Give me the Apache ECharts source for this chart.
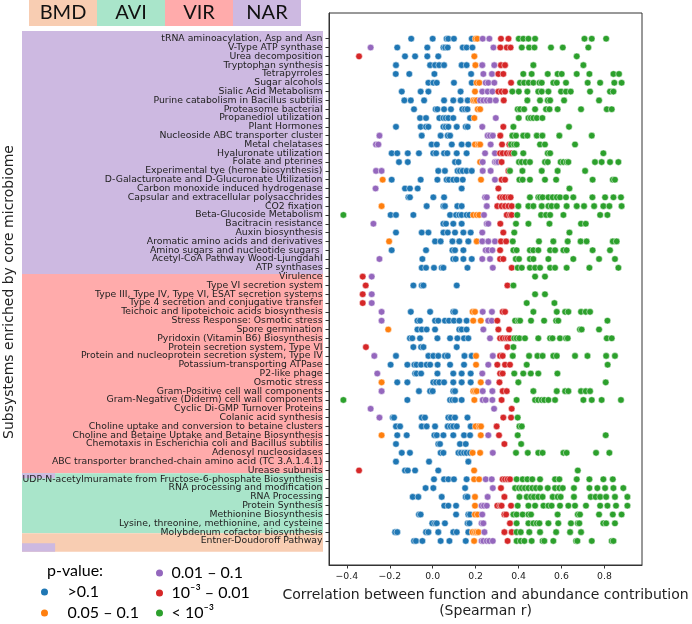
<!DOCTYPE html>
<html>
<head>
<meta charset="utf-8">
<script src="https://cdn.jsdelivr.net/npm/echarts@6.0.0/dist/echarts.min.js"></script>
<style>html,body{margin:0;padding:0;background:#fff;}#c{width:692px;height:624px;}</style>
</head>
<body>
<div id="c"></div>
<script>
const categories = [
"tRNA aminoacylation, Asp and Asn","V-Type ATP synthase","Urea decomposition","Tryptophan synthesis","Tetrapyrroles",
"Sugar alcohols","Sialic Acid Metabolism","Purine catabolism in Bacillus subtilis","Proteasome bacterial","Propanediol utilization",
"Plant Hormones","Nucleoside ABC transporter cluster","Metal chelatases","Hyaluronate utilization","Folate and pterines",
"Experimental tye (heme biosynthesis)","D-Galacturonate and D-Glucuronate Utilization","Carbon monoxide induced hydrogenase",
"Capsular and extracellular polysacchrides","CO2 fixation","Beta-Glucoside Metabolism","Bacitracin resistance","Auxin biosynthesis",
"Aromatic amino acids and derivatives","Amino sugars and nucleotide sugars ","Acetyl-CoA Pathway Wood-Ljungdahl","ATP synthases",
"Virulence","Type VI secretion system","Type III, Type IV, Type VI, ESAT secretion systems","Type 4 secretion and conjugative transfer",
"Teichoic and lipoteichoic acids biosynthesis","Stress Response: Osmotic stress","Spore germination","Pyridoxin (Vitamin B6) Biosynthesis",
"Protein secretion system, Type VI","Protein and nucleoprotein secretion system, Type IV","Potassium-transporting ATPase","P2-like phage",
"Osmotic stress","Gram-Positive cell wall components","Gram-Negative (Diderm) cell wall components","Cyclic Di-GMP Turnover Proteins",
"Colanic acid synthesis","Choline uptake and conversion to betaine clusters","Choline and Betaine Uptake and Betaine Biosynthesis",
"Chemotaxis in Escherichia coli and Bacillus subtilis","Adenosyl nucleosidases","ABC transporter branched-chain amino acid (TC 3.A.1.4.1)",
"Urease subunits","UDP-N-acetylmuramate from Fructose-6-phosphate Biosynthesis","RNA processing and modification","RNA Processing",
"Protein Synthesis","Methionine Biosynthesis","Lysine, threonine, methionine, and cysteine","Molybdenum cofactor biosynthesis",
"Entner-Doudoroff Pathway"
];

// group bands (in row units) behind the category labels
const groupBands = [["NAR",-0.9,26.38],["VIR",26.38,48.76],["AVI",48.76,55.5],["BMD",55.5,57.56]];
const narInsets = [[48.76,49.32],[56.62,57.56]];
const headerGroups = ["BMD","AVI","VIR","NAR"];
const xTicks = [-0.4,-0.2,0,0.2,0.4,0.6,0.8];
const pClasses = [">0.1","0.05 – 0.1","0.01 – 0.1","10⁻³ – 0.01","< 10⁻³"];

const rBlue = [
[-0.10,0.00,0.065,0.073,0.099,0.182],[-0.165,-0.025,0.05,0.058,0.07,0.14,0.158,0.185],[-0.129,-0.082,-0.025,0.026],
[-0.171,-0.012,0.011,0.03,0.053,0.135,0.158],[-0.172,-0.109,0.008,0.179],[-0.02,0.003,0.019,0.099,0.182],
[-0.144,-0.056,-0.02,0.13],[-0.132,-0.102,-0.04,0.053,0.096,0.13,0.163],[-0.087,0.014,0.022,0.053,0.085,0.138,0.151,0.162],
[-0.059,-0.031,0.031,0.05,0.061,0.073,0.096,0.174],[-0.171,-0.056,-0.031,-0.02,0.05,0.061,0.073,0.112,0.154,0.163],
[-0.051,0.037,0.07,0.081],[-0.005,0.019,0.089,0.135,0.166],[-0.191,-0.165,-0.116,-0.064,0.003,0.016,0.053,0.068,0.112,0.158],
[-0.157,-0.116,0.104,0.12],[0.026,0.057,0.116,0.127,0.14,0.158,0.182],[-0.191,-0.056,0.022,0.065,0.076,0.096,0.112,0.14],
[-0.129,-0.106,-0.07,0.135],[-0.113,-0.106,0.003,0.053],[-0.028,0.05,0.057,0.115,0.135],
[-0.196,-0.171,-0.09,0.081,0.109,0.124,0.135,0.158,0.171],[0.05,0.062,0.096,0.135],[-0.171,-0.051,-0.02,0.05,0.07,0.104,0.143,0.177],
[0.011,0.037,0.092,0.124,0.166],[-0.191,-0.031,0.092,0.104,0.143],[-0.048,0.096,0.107,0.143,0.182],
[-0.051,-0.031,0.006,0.042,0.05,0.162],[],[-0.09,-0.051,-0.043,0.112],[],[],
[-0.102,-0.012,0.096,0.104],[-0.071,-0.059,0.011,0.026,0.057,0.076,0.099,0.124,0.158],[-0.071,-0.051,-0.028,0.011,0.124,0.135,0.158],
[-0.106,-0.095,-0.059,0.022,0.081,0.115,0.146,0.166],[-0.09,-0.054,-0.043,0.112],[-0.171,-0.02,0.003,0.026,0.057,0.07,0.148,0.182],
[-0.196,-0.118,-0.085,-0.075,-0.054,-0.028,-0.012,0.023,0.081,0.146],[-0.082,-0.075,-0.054,0.022,0.096,0.135,0.177],
[-0.165,-0.118,0.003,0.016,0.031,0.053,0.096,0.135,0.177],[-0.064,-0.012,0.0,0.096,0.104],[-0.118,0.081,0.092,0.104,0.135],
[],[-0.186,-0.18,-0.051,-0.036,0.073,0.085,0.104,0.162],[-0.171,-0.152,-0.051,-0.028,0.011,0.07,0.084,0.096,0.112,0.177],
[-0.165,-0.121,0.008,0.019,0.05,0.096,0.146,0.174],[-0.171,0.026,0.034,0.127,0.154],[-0.144,-0.106,0.037,0.05,0.12,0.132,0.146,0.158,0.174],
[-0.171,-0.017,0.166],[-0.129,-0.116,-0.082,0.026],[0.006,0.053,0.073,0.099,0.158],[-0.033,0.003,0.151],
[-0.093,-0.067,0.042,0.154,0.162],[0.054,0.073,0.109],[-0.064,-0.056,0.109,0.166,0.174],[-0.002,0.011,0.019,0.057,0.163,0.171],
[-0.175,-0.165,-0.031,-0.02,0.026,0.096,0.112,0.166],[-0.087,-0.078,-0.048,0.037,0.078,0.154]
];
const rOrange = [
[0.2,0.208],[],[0.194],[0.199],[],[0.205,0.217],[0.197],[0.189,0.197,0.205],[0.21,0.221],[0.194],
[],[],[0.197,0.213,0.221],[],[0.221],[],[-0.233,0.225],[],[],[-0.238],
[0.189,0.205,0.217],[],[],[-0.203,0.205],[],[],[],[],[],[],
[],[0.186,0.197],[0.189,0.224],[-0.207],[],[],[0.202],[0.202],[],[-0.238,0.224],
[0.189,0.197,0.205],[0.194],[],[],[0.2,0.217,0.225],[-0.238,0.224],[],[0.186,0.221],[],[0.193],
[0.193,0.216],[],[0.197],[0.197],[0.197,0.21],[],[0.186,0.197,0.205,0.213],[0.193]
];
const rPurple = [
[0.233,0.264],[-0.289,0.283],[],[0.231,0.287],[0.236,0.276],[0.247,0.259,0.287],[0.231,0.256,0.278],[0.221,0.236,0.252,0.267,0.294],[],[0.294],
[0.231],[-0.248,0.256,0.267,0.28],[-0.264,-0.253,0.27],[0.244,0.29],[0.233,0.29,0.297,0.305],[-0.264,-0.238,0.233,0.27],[0.29],[-0.266],[0.244,0.252],[0.252],
[0.239],[-0.276,0.252,0.259],[0.231],[0.231,0.259,0.29],[0.247,0.259,0.278],[-0.248,0.231,0.267],[0.28],[-0.284],[],[-0.284],
[-0.284],[-0.238,0.233,0.276],[-0.238,0.259,0.275],[0.236],[0.267],[],[-0.272,0.28],[0.259],[-0.258,0.231],[0.259],
[-0.238,0.233,0.278],[0.233,0.247,0.278],[-0.289,0.286],[-0.248],[],[0.259],[],[0.28],[],[],
[0.247,0.275],[0.28],[0.256],[0.228,0.239,0.252],[0.231],[0.228,0.236],[0.241],[0.228,0.236,0.252,0.264,0.28]
];
const rRed = [
[0.318,0.353],[0.315,0.345,0.363],[-0.343],[0.318,0.337],[0.306,0.329],[0.365],[0.306,0.321,0.337],[0.331],[],[],
[0.329],[0.315],[0.323,0.357],[0.314,0.326,0.345,0.36,0.368],[0.321],[0.353],[0.321,0.337],[0.306],[0.314,0.326,0.337,0.353,0.363],[0.301,0.321,0.337,0.353,0.368],
[0.345,0.36,0.368],[0.315],[0.329],[0.318,0.342],[0.314],[0.314,0.329],[0.368],[-0.326],[-0.312,0.348],[-0.326],
[-0.326],[0.326,0.337],[0.301],[0.306,0.356],[0.314,0.326,0.34,0.349,0.36],[-0.311,0.348],[0.314,0.326],[0.301,0.337,0.36],[0.314,0.326],[0.311],
[0.326,0.345],[0.321],[0.368],[0.329,0.365],[0.298],[0.309],[0.334],[],[],[-0.343],
[0.326,0.337,0.349,0.36],[0.318],[0.334],[0.301,0.314,0.321,0.365],[0.334,0.342],[0.36],[0.334,0.368],[0.349]
];
const rGreen = [
[0.401,0.422,0.446,0.477,0.707,0.741,0.808],[0.415,0.449,0.474,0.551,0.606,0.725],[0.671],[0.469,0.702],
[0.422,0.461,0.536,0.582,0.601,0.671,0.73,0.842,0.868],[0.407,0.426,0.447,0.469,0.497,0.508,0.562,0.578,0.621,0.722,0.78,0.846,0.88],
[0.371,0.401,0.441,0.492,0.508,0.539,0.598,0.621,0.643,0.733,0.826,0.842],[0.441,0.5,0.536,0.547,0.612,0.775],
[0.396,0.407,0.426,0.477,0.528,0.544,0.582,0.691,0.811,0.834],[0.401,0.446,0.457,0.469,0.485,0.511],[0.376,0.635],
[0.371,0.388,0.422,0.441,0.485,0.511,0.59,0.741],[0.365,0.38,0.391,0.5,0.523,0.663],[0.38,0.422,0.536,0.547,0.795],
[0.402,0.415,0.433,0.453,0.523,0.536,0.596,0.609,0.624,0.632,0.756,0.787,0.826,0.865],[0.36,0.418,0.508,0.582,0.71],
[0.404,0.419,0.453,0.523,0.575,0.745,0.839,0.849],[0.637],
[0.453,0.492,0.5,0.512,0.539,0.559,0.578,0.593,0.621,0.655,0.744,0.803,0.842,0.877],
[0.399,0.446,0.469,0.508,0.539,0.554,0.578,0.624,0.671,0.705,0.752,0.795,0.823,0.88],
[-0.416,0.394,0.505,0.528,0.547,0.609,0.78,0.814],[0.388,0.446,0.544,0.691,0.713],[0.38,0.637],
[0.373,0.495,0.562,0.629,0.689,0.717,0.839,0.857],[0.376,0.391,0.453,0.469,0.492,0.547,0.57,0.609,0.624,0.745,0.826],
[0.387,0.402,0.453,0.469,0.539,0.655,0.775,0.849],[0.396,0.415,0.453,0.477,0.5,0.547,0.57,0.624,0.73,0.865],
[0.477,0.523],[0.376],[0.477,0.523],[0.438,0.567],[0.469,0.578,0.617,0.632,0.691,0.713,0.733],
[0.384,0.399,0.407,0.458,0.519,0.575,0.585,0.814],[0.686,0.694,0.775],
[0.38,0.391,0.404,0.43,0.492,0.547,0.558,0.593,0.621,0.629,0.811,0.834],[0.376],
[0.373,0.449,0.488,0.512,0.562,0.578,0.663,0.721,0.808,0.849],[0.438,0.815],[0.38,0.422,0.457,0.492,0.581],[0.399,0.806],
[0.469,0.578,0.617,0.632,0.691,0.713,0.733],[-0.416,0.391,0.477,0.492,0.508,0.52,0.539,0.57,0.702,0.741,0.787,0.877],
[],[0.396],[0.404,0.415],[0.396,0.806],[0.412],[0.388,0.443,0.492,0.512,0.609,0.624,0.761,0.823],[],[0.676],
[0.391,0.419,0.441,0.464,0.5,0.57,0.59,0.671,0.73,0.795,0.839],
[0.384,0.402,0.415,0.43,0.446,0.464,0.481,0.5,0.536,0.57,0.59,0.606,0.658,0.73,0.767,0.803,0.842,0.888],
[0.404,0.438,0.458,0.472,0.492,0.512,0.559,0.582,0.596,0.658,0.736,0.759,0.78,0.808,0.849,0.907],
[0.396,0.446,0.477,0.516,0.539,0.554,0.593,0.632,0.663,0.714,0.78,0.814,0.854,0.907],
[0.376,0.391,0.419,0.446,0.458,0.582,0.676,0.686,0.775,0.839,0.88],
[0.391,0.446,0.469,0.485,0.497,0.539,0.585,0.644,0.676,0.683,0.795,0.808,0.849],
[0.391,0.41,0.45,0.5,0.575,0.64,0.691],[0.391,0.41,0.427,0.461,0.512,0.52,0.562,0.668,0.674,0.741,0.834,0.842]
];

const groupColors = {BMD:"#F8CDB2", AVI:"#A9E5CA", VIR:"#FFABAB", NAR:"#CDB9E1"};
const classColors = ["#1f77b4","#ff7f0e","#9467bd","#d62728","#2ca02c"];
const classData = [rBlue, rOrange, rPurple, rRed, rGreen];
const rowIdx = categories.map((_, i) => i);
const Y_MIN = -2.92, Y_MAX = 59.73;
const SANS = '"DejaVu Sans", sans-serif';

const chart = echarts.init(document.getElementById('c'), null, {renderer: 'canvas', width: 692, height: 624});

const scatterSeries = classData.map((rows, k) => ({
  name: pClasses[k], type: 'scatter', xAxisIndex: 0, yAxisIndex: 0,
  symbol: 'circle', symbolSize: 6.6,
  itemStyle: {color: classColors[k], borderColor: '#fff', borderWidth: 0.5, opacity: 1},
  emphasis: {disabled: true}, z: 3 + k,
  data: rows.flatMap((vals, i) => vals.map(v => [v, i]))
}));

const legendText = {fontFamily: 'Lato', fontSize: 16, color: '#000', lineHeight: 20};

chart.setOption({
  animation: false,
  backgroundColor: '#fff',
  grid: [
    {left: 329, top: 13, width: 313, height: 558, show: true, borderColor: '#333', borderWidth: 1, backgroundColor: 'transparent'},
    {left: 22, top: 13, width: 301, height: 558},
    {left: 29, top: 0, width: 272, height: 26}
  ],
  xAxis: [
    {type: 'value', gridIndex: 0, min: -0.483, max: 0.975,
     splitLine: {show: false},
     axisLine: {show: true, onZero: false, lineStyle: {color: '#333', width: 1}},
     axisTick: {show: true, customValues: xTicks, length: 3.5, lineStyle: {color: '#333'}},
     axisLabel: {customValues: xTicks, margin: 7, fontFamily: SANS, fontSize: 9.3, color: '#222',
                 showMinLabel: true, showMaxLabel: true, hideOverlap: false,
                 formatter: v => (v < 0 ? '−' : '') + Math.abs(v).toFixed(1)},
     name: 'Correlation between function and abundance contribution\n(Spearman r)',
     nameLocation: 'middle', nameGap: 22,
     nameTextStyle: {fontFamily: SANS, fontSize: 14, color: '#222', lineHeight: 16}},
    {type: 'value', gridIndex: 1, min: 0, max: 1, show: false},
    {type: 'category', gridIndex: 2, data: headerGroups, show: false}
  ],
  yAxis: [
    {type: 'value', gridIndex: 0, inverse: true, min: Y_MIN, max: Y_MAX, z: 10,
     splitLine: {show: false},
     axisLine: {show: true, onZero: false, lineStyle: {color: '#333', width: 1}},
     axisTick: {show: true, customValues: rowIdx, length: 3.5, lineStyle: {color: '#333'}},
     axisLabel: {customValues: rowIdx, margin: 6.5, fontFamily: SANS, fontSize: 9.3, color: '#222',
                 lineHeight: 9, showMinLabel: true, showMaxLabel: true, hideOverlap: false,
                 formatter: v => categories[Math.round(v)] || ''}},
    {type: 'value', gridIndex: 1, inverse: true, min: Y_MIN, max: Y_MAX, show: false},
    {type: 'value', gridIndex: 2, min: 0, max: 1, show: false}
  ],
  legend: [
    {data: pClasses.slice(0, 2), orient: 'vertical', left: 39, top: 582, padding: 0,
     itemWidth: 36, itemHeight: 9, itemGap: 1, icon: 'circle', selectedMode: false, textStyle: legendText},
    {data: pClasses.slice(2), orient: 'vertical', left: 154, top: 563, padding: 0,
     itemWidth: 14, itemHeight: 9, itemGap: 0, icon: 'circle', selectedMode: false, textStyle: legendText}
  ],
  graphic: [
    {type: 'text', left: 47, top: 563, style: {text: 'p-value:', font: '16px Lato', fill: '#000'}},
    {type: 'text', x: 9, y: 292, rotation: Math.PI / 2,
     style: {text: 'Subsystems enriched by core microbiome', font: '14px "DejaVu Sans"', fill: '#222',
             textAlign: 'center', textVerticalAlign: 'middle'}}
  ],
  series: [
    {type: 'custom', xAxisIndex: 1, yAxisIndex: 1, silent: true, z: 0, clip: false,
     data: groupBands.map(b => [b[1], b[2]]),
     renderItem: (params, api) => {
       const p0 = api.coord([0, api.value(0)]);
       const p1 = api.coord([1, api.value(1)]);
       return {type: 'rect', shape: {x: p0[0], y: p0[1], width: p1[0] - p0[0], height: p1[1] - p0[1]},
               style: {fill: groupColors[groupBands[params.dataIndex][0]]}};
     }},
    {type: 'custom', xAxisIndex: 1, yAxisIndex: 1, silent: true, z: 1, clip: false,
     data: narInsets,
     renderItem: (params, api) => {
       const p0 = api.coord([0, api.value(0)]);
       const p1 = api.coord([0.11, api.value(1)]);
       return {type: 'rect', shape: {x: p0[0], y: p0[1], width: p1[0] - p0[0], height: p1[1] - p0[1]},
               style: {fill: groupColors.NAR}};
     }},
    {type: 'bar', xAxisIndex: 2, yAxisIndex: 2, barWidth: '100%', silent: true,
     data: headerGroups.map(g => ({value: 1, itemStyle: {color: groupColors[g]}})),
     label: {show: true, position: 'inside', formatter: '{b}', fontFamily: 'Lato', fontSize: 20, color: '#111'}},
    ...scatterSeries
  ]
});
</script>
</body>
</html>
